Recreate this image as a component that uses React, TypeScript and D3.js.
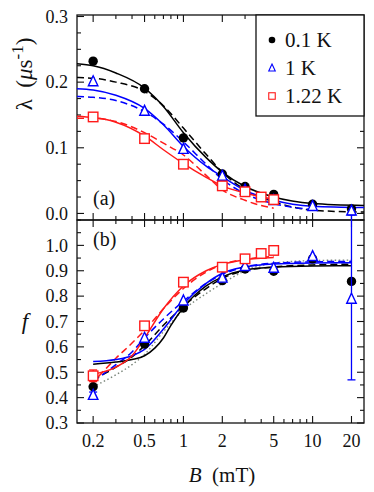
import React, { useRef, useEffect } from "react";
import * as d3 from "d3";

const W = 374;
const H = 492;
const plotLeft = 77;
const plotRight = 364;
const panelA = { top: 15, bottom: 220 };
const panelB = { top: 220, bottom: 423 };
const fontFamily = "Liberation Serif, Times New Roman, DejaVu Serif, serif";

// tick labels
const xTickValues = [0.2, 0.5, 1, 2, 5, 10, 20];
const lambdaTickValues = [0, 0.1, 0.2, 0.3];
const fTickValues = [0.3, 0.4, 0.5, 0.6, 0.7, 0.8, 0.9, 1.0];

// 0.1 K (black circles)
const fieldK01 = [0.2, 0.5, 1, 2, 3, 5, 10, 20];
const lambdaK01 = [0.232, 0.19, 0.115, 0.06, 0.041, 0.029, 0.014, 0.007];
const fK01 = [0.443, 0.611, 0.753, 0.861, 0.907, 0.898, 0.947, 0.858];

// 1 K (blue triangles)
const fieldK1 = [0.2, 0.5, 1, 2, 3, 5, 10, 20];
const lambdaK1 = [0.201, 0.156, 0.098, 0.057, 0.036, 0.02, 0.011, 0.004];
const fK1 = [0.41, 0.635, 0.782, 0.872, 0.918, 0.911, 0.957, 0.789];
const fErrLoK1 = [0.012, 0, 0, 0, 0, 0, 0, 0.319];
const fErrHiK1 = [0.012, 0, 0, 0, 0, 0, 0, 0.34];

// 1.22 K (red squares)
const fieldK122 = [0.2, 0.5, 1, 2, 3, 4, 5];
const lambdaK122 = [0.147, 0.114, 0.075, 0.042, 0.033, 0.025, 0.021];
const fK122 = [0.486, 0.683, 0.855, 0.914, 0.947, 0.968, 0.98];
const fErrK122 = [0.023, 0.01, 0, 0, 0, 0, 0];

// fit curves, panel (a): [B, lambda]
const fitLambdaK01 = [[0.15, 0.228], [0.2, 0.225], [0.3, 0.214], [0.5, 0.191], [0.7, 0.163], [1, 0.123], [1.5, 0.085], [2, 0.063], [3, 0.041], [5, 0.025], [10, 0.015], [25, 0.012]];
const fitLambdaK01b = [[0.15, 0.207], [0.2, 0.206], [0.3, 0.2], [0.5, 0.186], [0.7, 0.164], [1, 0.13], [1.5, 0.09], [2, 0.063], [3, 0.036], [5, 0.018], [10, 0.005], [25, 0.002]];
const fitLambdaK1 = [[0.15, 0.19], [0.2, 0.188], [0.3, 0.18], [0.5, 0.16], [0.7, 0.135], [1, 0.102], [1.5, 0.072], [2, 0.056], [3, 0.035], [5, 0.02], [10, 0.011], [25, 0.009]];
const fitLambdaK1b = [[0.15, 0.178], [0.2, 0.177], [0.3, 0.172], [0.5, 0.155], [0.7, 0.136], [1, 0.109], [1.5, 0.075], [2, 0.052], [3, 0.03], [5, 0.015], [10, 0.006]];
const fitLambdaK122 = [[0.15, 0.148], [0.2, 0.146], [0.3, 0.139], [0.5, 0.118], [0.7, 0.097], [1, 0.076], [1.5, 0.055], [2, 0.042], [3, 0.031], [4, 0.025], [5, 0.022]];
const fitLambdaK122b = [[0.15, 0.145], [0.2, 0.145], [0.3, 0.14], [0.5, 0.123], [0.7, 0.107], [1, 0.089], [1.5, 0.058], [2, 0.036], [3, 0.02], [4, 0.012], [5, 0.008]];

// fit curves, panel (b): [B, f]
const fitFK01 = [[0.2, 0.532], [0.3, 0.54], [0.4, 0.55], [0.5, 0.565], [0.6, 0.595], [0.7, 0.635], [0.8, 0.685], [1, 0.755], [1.5, 0.84], [2, 0.876], [3, 0.903], [5, 0.914], [10, 0.919], [20, 0.92]];
const fitFK01b = [[0.2, 0.47], [0.3, 0.52], [0.4, 0.56], [0.5, 0.605], [0.7, 0.685], [1, 0.76], [1.5, 0.83], [2, 0.87], [3, 0.9], [5, 0.915], [10, 0.923], [20, 0.926]];
const fitFK1 = [[0.2, 0.542], [0.3, 0.55], [0.4, 0.565], [0.5, 0.59], [0.7, 0.67], [1, 0.77], [1.5, 0.85], [2, 0.89], [3, 0.915], [5, 0.927], [10, 0.931], [20, 0.932]];
const fitFK1b = [[0.2, 0.463], [0.3, 0.53], [0.4, 0.58], [0.5, 0.635], [0.7, 0.71], [1, 0.78], [1.5, 0.85], [2, 0.885], [3, 0.915], [5, 0.93], [10, 0.935], [20, 0.937]];
const fitFK122 = [[0.2, 0.492], [0.3, 0.52], [0.4, 0.565], [0.5, 0.635], [0.7, 0.75], [1, 0.84], [1.5, 0.9], [2, 0.925], [3, 0.943], [5, 0.952]];
const fitFK122b = [[0.22, 0.483], [0.3, 0.555], [0.4, 0.615], [0.5, 0.665], [0.7, 0.75], [1, 0.83], [1.5, 0.895], [2, 0.925], [3, 0.945], [5, 0.957]];
const fitFDotted = [[0.2, 0.443], [0.3, 0.49], [0.4, 0.53], [0.5, 0.57], [0.7, 0.66], [1, 0.745], [1.5, 0.81], [2, 0.85], [3, 0.9], [5, 0.93], [10, 0.94], [20, 0.942]];

const BLACK = "#000";
const BLUE = "#0000ff";
const RED = "#ff1a1a";

const App = () => {
    const canvas = useRef(null);

    useEffect(() => {
        const svg = d3.select(canvas.current);
        svg.selectAll("*").remove();

        const x = d3.scaleLog().domain([0.15, 25]).range([plotLeft, plotRight]);
        const yA = d3.scaleLinear().domain([-0.01, 0.3]).range([panelA.bottom, panelA.top + 1.5]);
        const yB = d3.scaleLinear().domain([0.3, 1.1]).range([panelB.bottom, panelB.top]);

        const defs = svg.append("defs");
        defs.append("clipPath").attr("id", "clipA").append("rect")
            .attr("x", plotLeft).attr("y", panelA.top).attr("width", plotRight - plotLeft).attr("height", panelA.bottom - panelA.top);
        defs.append("clipPath").attr("id", "clipB").append("rect")
            .attr("x", plotLeft).attr("y", panelB.top).attr("width", plotRight - plotLeft).attr("height", panelB.bottom - panelB.top);

        // x ticks (log minor ticks)
        const xMinor = [0.2, 0.3, 0.4, 0.5, 0.6, 0.7, 0.8, 0.9, 1, 2, 3, 4, 5, 6, 7, 8, 9, 10, 20];
        const drawFrame = (panel, y, major, minor) => {
            const g = svg.append("g").attr("stroke", "#111").attr("stroke-width", 1.1);
            xMinor.forEach((v) => {
                const len = xTickValues.includes(v) ? 7 : 4;
                g.append("line").attr("x1", x(v)).attr("x2", x(v)).attr("y1", panel.bottom).attr("y2", panel.bottom - len);
                g.append("line").attr("x1", x(v)).attr("x2", x(v)).attr("y1", panel.top).attr("y2", panel.top + len);
            });
            minor.forEach((v) => {
                const isMajor = major.some((m) => Math.abs(m - v) < 1e-6);
                const len = isMajor ? 7 : 4;
                g.append("line").attr("x1", plotLeft).attr("x2", plotLeft + len).attr("y1", y(v)).attr("y2", y(v));
                g.append("line").attr("x1", plotRight).attr("x2", plotRight - len).attr("y1", y(v)).attr("y2", y(v));
            });
            svg.append("rect")
                .attr("x", plotLeft).attr("y", panel.top)
                .attr("width", plotRight - plotLeft).attr("height", panel.bottom - panel.top)
                .attr("fill", "none").attr("stroke", "#111").attr("stroke-width", 1.3);
        };

        drawFrame(panelA, yA, lambdaTickValues, d3.range(0, 0.3001, 0.025));
        drawFrame(panelB, yB, fTickValues, d3.range(0.3, 1.1001, 0.05));

        // tick labels
        const txt = svg.append("g").style("font-family", fontFamily).attr("font-size", 18).attr("fill", "#111");
        lambdaTickValues.forEach((v) => {
            txt.append("text").attr("x", 68).attr("y", yA(v)).attr("dy", "0.35em")
                .attr("text-anchor", "end").text(d3.format(".1f")(v));
        });
        fTickValues.forEach((v) => {
            txt.append("text").attr("x", 68).attr("y", yB(v)).attr("dy", "0.35em")
                .attr("text-anchor", "end").text(d3.format(".1f")(v));
        });
        xTickValues.forEach((v) => {
            txt.append("text").attr("x", x(v)).attr("y", 447)
                .attr("text-anchor", "middle").text(String(v));
        });

        // axis titles
        const lab = svg.append("g").style("font-family", fontFamily).attr("font-size", 21).attr("fill", "#111");
        const ylab = lab.append("text").attr("transform", "translate(32,74) rotate(-90)")
            .attr("text-anchor", "middle").attr("font-size", 23).attr("xml:space", "preserve");
        ylab.append("tspan").text("λ  (");
        ylab.append("tspan").attr("font-style", "italic").text("μ");
        ylab.append("tspan").text("s");
        ylab.append("tspan").attr("dy", -9).attr("font-size", 17).text("-1");
        ylab.append("tspan").attr("dy", 9).text(")");

        lab.append("text").attr("x", 25).attr("y", yB(0.7) + 7).attr("text-anchor", "middle")
            .attr("font-size", 23).attr("font-style", "italic").text("f");

        const xlab = lab.append("text").attr("x", 222).attr("y", 482).attr("text-anchor", "middle").attr("xml:space", "preserve");
        xlab.append("tspan").attr("font-style", "italic").text("B");
        xlab.append("tspan").text("  (mT)");

        // panel letters
        lab.append("text").attr("x", 93).attr("y", 205).attr("font-size", 20).text("(a)");
        lab.append("text").attr("x", 93).attr("y", 246).attr("font-size", 20).text("(b)");

        // curves
        const drawCurve = (clip, y, pts, color, dash, width = 1.5) => {
            const line = d3.line().x((d) => x(d[0])).y((d) => y(d[1])).curve(d3.curveMonotoneX);
            svg.append("path").attr("clip-path", `url(#${clip})`)
                .attr("d", line(pts)).attr("fill", "none")
                .attr("stroke", color).attr("stroke-width", width)
                .attr("stroke-dasharray", dash);
        };

        drawCurve("clipA", yA, fitLambdaK01b, BLACK, "7,4");
        drawCurve("clipA", yA, fitLambdaK1b, BLUE, "7,4");
        drawCurve("clipA", yA, fitLambdaK122b, RED, "7,4");
        drawCurve("clipA", yA, fitLambdaK01, BLACK, null);
        drawCurve("clipA", yA, fitLambdaK1, BLUE, null);
        drawCurve("clipA", yA, fitLambdaK122, RED, null);

        drawCurve("clipB", yB, fitFDotted, "#7a857a", "1.5,2.5", 1.4);
        drawCurve("clipB", yB, fitFK01b, BLACK, "7,4");
        drawCurve("clipB", yB, fitFK1b, BLUE, "7,4");
        drawCurve("clipB", yB, fitFK122b, RED, "7,4");
        drawCurve("clipB", yB, fitFK01, BLACK, null);
        drawCurve("clipB", yB, fitFK1, BLUE, null);
        drawCurve("clipB", yB, fitFK122, RED, null);

        // markers
        const circle = (g, cx, cy, r) => g.append("circle").attr("cx", cx).attr("cy", cy).attr("r", r).attr("fill", BLACK);
        const triangle = (g, cx, cy, s) => g.append("path")
            .attr("d", `M${cx},${cy - s * 0.6}L${cx + s / 2},${cy + s * 0.45}L${cx - s / 2},${cy + s * 0.45}Z`)
            .attr("fill", "#fff").attr("stroke", BLUE).attr("stroke-width", 1.4);
        const square = (g, cx, cy, s) => g.append("rect")
            .attr("x", cx - s / 2).attr("y", cy - s / 2).attr("width", s).attr("height", s)
            .attr("fill", "#fff").attr("stroke", RED).attr("stroke-width", 1.4);
        const errBar = (g, cx, y0, y1, color) => {
            g.append("line").attr("x1", cx).attr("x2", cx).attr("y1", y0).attr("y2", y1).attr("stroke", color).attr("stroke-width", 1.3);
            [y0, y1].forEach((yy) => g.append("line").attr("x1", cx - 4).attr("x2", cx + 4).attr("y1", yy).attr("y2", yy).attr("stroke", color).attr("stroke-width", 1.3));
        };

        const gA = svg.append("g").attr("clip-path", "url(#clipA)");
        fieldK01.forEach((b, i) => circle(gA, x(b), yA(lambdaK01[i]), 4.7));
        fieldK1.forEach((b, i) => triangle(gA, x(b), yA(lambdaK1[i]), 9.5));
        fieldK122.forEach((b, i) => square(gA, x(b), yA(lambdaK122[i]), 9.5));

        const gB = svg.append("g");
        fieldK01.forEach((b, i) => circle(gB, x(b), yB(fK01[i]), 4.7));
        fieldK1.forEach((b, i) => {
            if (fErrLoK1[i] > 0) errBar(gB, x(b), yB(fK1[i] - fErrLoK1[i]), Math.max(yB(fK1[i] + fErrHiK1[i]), panelA.top + 200), BLUE);
            triangle(gB, x(b), yB(fK1[i]), 9.5);
        });
        fieldK122.forEach((b, i) => {
            if (fErrK122[i] > 0) errBar(gB, x(b), yB(fK122[i] - fErrK122[i]), yB(fK122[i] + fErrK122[i]), RED);
            square(gB, x(b), yB(fK122[i]), 9.5);
        });

        // legend
        const legend = svg.append("g").style("font-family", fontFamily).attr("font-size", 21);
        legend.append("rect").attr("x", 256).attr("y", panelA.top).attr("width", plotRight - 256).attr("height", 101)
            .attr("fill", "#fff").attr("stroke", "#111").attr("stroke-width", 1.3);
        const legendLabels = ["0.1 K", "1 K", "1.22 K"];
        const legendY = [40, 68, 96];
        circle(legend, 272, legendY[0], 3.3);
        triangle(legend, 272, legendY[1], 6.5).attr("stroke-width", 1.1);
        square(legend, 272, legendY[2], 6.5).attr("stroke-width", 1.1);
        legendLabels.forEach((t, i) => {
            legend.append("text").attr("x", 285).attr("y", legendY[i]).attr("dy", "0.35em").attr("fill", "#111").text(t);
        });
    }, []);

    return (
        <svg ref={canvas} width={W} height={H} style={{ position: "absolute", left: 0, top: 0, background: "#fff" }} />
    );
};

export default App;
